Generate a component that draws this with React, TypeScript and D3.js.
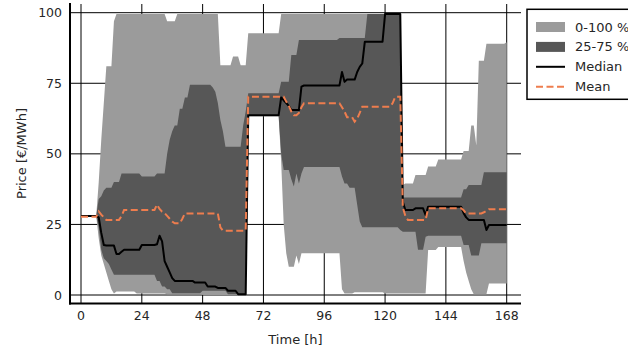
import React from "react";
import * as d3 from "d3";

// hourly values over one week (h = 0..168)
const hours = d3.range(0, 169);

const priceMax = [
  28, 28, 28, 28, 28, 28, 28, 40, 55, 68, 81, 81, 81, 97, 99.5, 99.5, 99.5, 99.5, 99.5, 99.5, 99.5, 99.5, 99.5, 99.5,
  99.5, 99.5, 99.5, 99.5, 99.5, 99.5, 99.5, 99.5, 99.5, 99.5, 97, 97, 97, 97, 99.5, 99.5, 99.5, 99.5, 99.5, 99.5, 99.5, 99.5, 99.5, 99.5,
  99.5, 99.5, 99.5, 99.5, 99.5, 99.5, 99.5, 81.4, 81.4, 81.4, 81.4, 81.4, 84.5, 84.5, 84.5, 81.4, 81.4, 81.4, 92.7, 92.7, 92.7, 92.7, 92.7, 92.7,
  92.7, 92.7, 92.7, 92.7, 92.7, 92.7, 92.7, 99.5, 99.5, 99.5, 99.5, 99.5, 99.5, 99.5, 99.5, 99.5, 99.5, 99.5, 99.5, 99.5, 99.5, 99.5, 99.5, 99.5,
  99.5, 99.5, 99.5, 99.5, 99.5, 99.5, 99.5, 99.5, 99.5, 99.5, 99.5, 99.5, 99.5, 99.5, 99.5, 99.5, 99.5, 99.5, 99.5, 99.5, 99.5, 99.5, 99.5, 99.5,
  99.5, 99.5, 99.5, 99.5, 99.5, 99.5, 99.5, 39, 39.5, 39.5, 39.5, 39.5, 42.5, 42.5, 42.5, 42.5, 42.5, 45.5, 45.5, 45.5, 45.5, 48, 48, 48,
  48, 48, 48, 48, 48, 48, 48, 51, 51, 51, 60, 60, 53, 83, 83, 83, 89, 89, 89, 89, 89, 89, 89, 89,
  89.5,
];

const priceQ75 = [
  28, 28, 28, 28, 28, 28, 28, 34, 35, 37, 38, 38, 38, 40, 40, 40, 43, 43, 43, 43, 43, 43, 43, 43,
  42, 42, 42, 42, 42, 42, 43, 43, 43, 43, 50, 55, 58, 60, 60, 66, 66, 70, 70, 74.5, 74.5, 74.5, 74.5, 74.5,
  74.5, 74.5, 74.5, 74.5, 73.5, 72, 68, 62, 58, 52.5, 52.5, 52.5, 52.5, 52.5, 52.5, 52.5, 60, 65, 71.5, 71.5, 71.5, 71.5, 71.5, 71.5,
  71.5, 71.5, 71.5, 71.5, 71.5, 71.5, 71.5, 75.5, 75.5, 75.5, 75.5, 85, 85, 85, 90.3, 90.3, 90.3, 90.3, 90.3, 90.3, 90.3, 90.3, 90.3, 90.3,
  90.3, 90.3, 90.3, 90.3, 90.3, 90.3, 91, 91, 91, 91, 91, 91, 91, 91, 91, 91, 91, 99.5, 99.5, 99.5, 99.5, 99.5, 99.5, 99.5,
  99.5, 99.5, 99.5, 99.5, 99.5, 99.5, 99.5, 34.5, 34.5, 34.5, 34.5, 34.5, 34.5, 34.5, 34.5, 34.5, 34.5, 34.5, 34.5, 34.5, 34.5, 34.5, 34.5, 34.5,
  34.5, 34.5, 34.5, 34.5, 34.5, 34.5, 34.5, 37.5, 37.5, 39, 39, 39, 39, 39, 39, 43.5, 43.5, 43.5, 43.5, 43.5, 43.5, 43.5, 43.5, 43.5,
  43.5,
];

const priceMedian = [
  28, 28, 28, 28, 28, 28, 28, 27.5, 22, 17.7, 17.5, 17.5, 17.5, 17.5, 14.5, 14.5, 15.3, 16, 16, 16, 16, 16, 16, 16,
  17.7, 17.7, 17.7, 17.7, 17.7, 17.7, 18, 21, 19, 12, 10, 8, 6, 5, 5, 5, 5, 5, 5, 5, 5, 4.4, 4.4, 4.4,
  4.4, 4.4, 3, 3, 3, 3, 2.5, 2.5, 2.5, 2.5, 1.5, 1.5, 1.5, 1.5, 0.3, 0.3, 0.3, 0.3, 63.7, 63.7, 63.7, 63.7, 63.7, 63.7,
  63.7, 63.7, 63.7, 63.7, 63.7, 63.7, 63.7, 70, 69, 68, 67, 65.5, 65.5, 65.5, 65.5, 73.8, 74.2, 74.2, 74.2, 74.2, 74.2, 74.2, 74.2, 74.2,
  74.2, 74.2, 74.2, 74.2, 74.2, 74.2, 74.2, 79, 75.5, 76.3, 76.3, 76.3, 76.3, 79, 80.8, 82, 89.7, 89.7, 89.7, 89.7, 89.7, 89.7, 89.7, 89.7,
  99.5, 99.5, 99.5, 99.5, 99.5, 99.5, 99.5, 33, 30.1, 30.1, 30.1, 30.1, 30.7, 30.7, 30.7, 30.7, 28.3, 31.3, 31.3, 31.3, 31.3, 31.3, 31.3, 31.3,
  31.3, 31.3, 31.3, 31.3, 31.3, 31.3, 31.3, 29, 27.5, 26.6, 26.6, 26.6, 26.6, 26.6, 26.6, 26.6, 23, 24.8, 24.8, 24.8, 24.8, 24.8, 24.8, 24.8,
  24.8,
];

const priceMean = [
  27.7, 27.7, 27.7, 27.7, 27.7, 27.7, 27.7, 29.6, 28.5, 27.5, 26.6, 26.6, 26.6, 26.6, 26.6, 26.6, 28, 30.1, 30.1, 30.1, 30.1, 30.1, 30.1, 30.1,
  30.1, 30.1, 30.1, 30.1, 30.1, 30.1, 32, 30.5, 29.5, 29, 28, 27, 26, 25.4, 25.4, 25.4, 27, 28.9, 28.9, 28.9, 28.9, 28.9, 28.9, 28.9,
  28.9, 28.9, 28.9, 28.9, 28.9, 28.9, 28.9, 24, 22.8, 22.8, 22.8, 22.8, 22.8, 22.8, 22.8, 22.8, 22.8, 22.8, 70.2, 70.2, 70.2, 70.2, 70.2, 70.2,
  70.2, 70.2, 70.2, 70.2, 70.2, 70.2, 70.2, 70.2, 70.2, 68.5, 67, 65, 63.7, 63.7, 64.5, 66.5, 67.9, 67.9, 67.9, 67.9, 67.9, 67.9, 67.9, 67.9,
  67.9, 67.9, 67.9, 67.9, 67.9, 67.9, 67.9, 66.5, 65, 63, 63, 63, 61.4, 62.5, 64.5, 66.7, 66.7, 66.7, 66.7, 66.7, 66.7, 66.7, 66.7, 66.7,
  66.7, 66.7, 66.7, 68, 70.2, 70.2, 70.2, 31, 28, 26.6, 26.6, 26.6, 26.6, 26.6, 26.6, 26.6, 26.6, 30.7, 30.7, 30.7, 30.7, 30.7, 30.7, 30.7,
  30.7, 30.7, 30.7, 30.7, 30.7, 30.7, 30.7, 30, 28.9, 28.9, 28.9, 28.9, 28.9, 28.9, 28.9, 29.3, 29.8, 30.4, 30.4, 30.4, 30.4, 30.4, 30.4, 30.4,
  30.4,
];

const priceQ25 = [
  28, 28, 28, 28, 28, 28, 28, 24, 16, 13, 12, 11, 9, 7.2, 7.2, 7.2, 7.2, 7.2, 7.2, 7.2, 7.2, 7.2, 7.2, 7.2,
  7.2, 7.2, 7.2, 7.2, 7.2, 7.2, 5, 5, 3, 3, 2, 2, 0.6, 0.6, 0.6, 0.6, 0.6, 0.6, 0.6, 0.6, 0.6, 0.6, 0.6, 0.6,
  1.5, 1.5, 1.5, 1.5, 1.5, 1.5, 1.5, 1.5, 1.5, 1.5, 0.3, 0.3, 0.3, 0.3, 0.3, 0.3, 0.3, 0.3, 63.5, 63.5, 63.5, 63.5, 63.5, 63.5,
  63.5, 63.5, 63.5, 63.5, 63.5, 63.5, 63.5, 50, 44.3, 44.3, 44.3, 41, 38.4, 43, 39.5, 43, 45.3, 45.3, 45.3, 45.3, 45.3, 45.3, 45.3, 45.3,
  45.3, 45.3, 45.3, 45.3, 45.3, 45.3, 45.3, 42, 39.5, 39.5, 38, 38, 38, 32, 26, 24, 24, 24, 24, 24, 24, 24, 24, 24,
  24, 24, 24, 24, 24, 24, 23, 22.4, 22.4, 22.4, 22.4, 22.4, 22.4, 16, 16, 16, 20.6, 21, 21, 21, 21, 21, 21, 21,
  21, 21, 21, 21, 21, 21, 21, 17.7, 17.7, 17.7, 14, 14, 14, 14, 18.3, 18.3, 18.3, 18.3, 18.3, 18.3, 18.3, 18.3, 18.3, 18.3,
  18.3,
];

const priceMin = [
  28, 28, 28, 28, 28, 28, 28, 20, 14, 11, 8, 5, 2, 0.5, 1.2, 1.2, 1.2, 1.2, 1.2, 1.2, 1.2, 1.2, 0.5, 0.5,
  0.5, 0.5, 0.5, 0.5, 0.5, 0.5, 0.5, 0.5, 0.5, 0.5, 0.3, 0.3, 0.3, 0.3, 0.3, 0.3, 0.3, 0.3, 0.3, 0.3, 0.3, 0.3, 0.3, 0.3,
  0, 0, 0, 0, 0, 0, 0, 0, 0, 0, 0, 0, 0, 0, 0, 0, 0, 0, 63.3, 63.3, 63.3, 63.3, 63.3, 63.3,
  63.3, 63.3, 63.3, 63.3, 63.3, 63.3, 63.3, 47, 25, 14.8, 10, 10, 10, 14, 11, 14.8, 14.8, 14.8, 14.8, 14.8, 14.8, 14.8, 14.8, 14.8,
  14.8, 14.8, 14.8, 14.8, 14.8, 14.8, 14.8, 2, 0.5, 0.5, 0.5, 0.5, 1, 1, 1, 1, 1, 1, 1, 1, 1, 1, 1, 1,
  0.5, 0.5, 0.5, 0.5, 0.5, 0.5, 0.5, 0.5, 0.5, 0.5, 0.5, 0.5, 0.5, 0.5, 0.5, 0.5, 0.5, 15.9, 15.9, 15.9, 15.9, 17, 17, 17,
  17, 17, 17, 17, 17, 17, 17, 12, 8, 5, 2, 0.3, 0.3, 0.3, 0.3, 0.3, 0.3, 4.1, 4.1, 4.1, 4.1, 4.1, 4.1, 4.1,
  4.1,
];

const xTicks = [0, 24, 48, 72, 96, 120, 144, 168];
const yTicks = [0, 25, 50, 75, 100];
const legendLabels = ["0-100 %", "25-75 %", "Median", "Mean"];

const lightGrey = "#9b9b9b";
const darkGrey = "#575757";
const meanColor = "#ee7d4e";
const font = "DejaVu Sans";

export default function App() {
  const width = 628;
  const height = 348;
  const plot = { left: 70, right: 521, top: 4, bottom: 303.5 };

  const x = d3.scaleLinear().domain([0, 168]).range([81, 506.7]);
  const y = d3.scaleLinear().domain([0, 100]).range([295, 12.7]);

  const band = (lo: number[], hi: number[]) =>
    d3.area<number>()
      .x((h) => x(h))
      .y0((_, i) => y(lo[i]))
      .y1((_, i) => y(hi[i]))(hours) || "";

  const line = (vals: number[]) =>
    d3.line<number>()
      .x((h) => x(h))
      .y((_, i) => y(vals[i]))(hours) || "";

  return (
    <svg width={width} height={height} style={{ position: "absolute", left: 0, top: 0 }} fontFamily={font}>
      <rect width={width} height={height} fill="white" />

      {/* grid (under the bands) */}
      {xTicks.map((t) => (
        <line key={"gx" + t} x1={x(t)} x2={x(t)} y1={plot.top} y2={plot.bottom} stroke="#000" strokeWidth={1} />
      ))}
      {yTicks.map((t) => (
        <line key={"gy" + t} x1={plot.left} x2={plot.right} y1={y(t)} y2={y(t)} stroke="#000" strokeWidth={1} />
      ))}

      <path d={band(priceMin, priceMax)} fill={lightGrey} />
      <path d={band(priceQ25, priceQ75)} fill={darkGrey} />
      <path d={line(priceMedian)} fill="none" stroke="#000" strokeWidth={2} strokeLinejoin="round" />
      <path d={line(priceMean)} fill="none" stroke={meanColor} strokeWidth={2} strokeDasharray="7,3.5" />

      {/* spines */}
      <line x1={plot.left} x2={plot.left} y1={plot.top - 1} y2={plot.bottom + 1} stroke="#000" strokeWidth={2} />
      <line x1={plot.left - 1} x2={plot.right} y1={plot.bottom} y2={plot.bottom} stroke="#000" strokeWidth={2} />

      {xTicks.map((t) => (
        <text key={"tx" + t} x={x(t)} y={319.5} textAnchor="middle" fontSize={12.5} fill="#262626">{t}</text>
      ))}
      {yTicks.map((t) => (
        <text key={"ty" + t} x={62} y={y(t) + 4.5} textAnchor="end" fontSize={12.5} fill="#262626">{t}</text>
      ))}
      <text x={295.5} y={344} textAnchor="middle" fontSize={13} fill="#262626">Time [h]</text>
      <text transform="translate(26,153.5) rotate(-90)" textAnchor="middle" fontSize={13} fill="#262626">Price [€/MWh]</text>

      {/* legend */}
      <g>
        <rect x={527} y={9.3} width={120} height={90} fill="white" stroke="#000" strokeWidth={1.5} />
        {legendLabels.map((label, i) => {
          const cy = 27 + i * 19.9;
          return (
            <g key={label}>
              {i === 0 && <rect x={536} y={cy - 5} width={29} height={10} fill={lightGrey} />}
              {i === 1 && <rect x={536} y={cy - 5} width={29} height={10} fill={darkGrey} />}
              {i === 2 && <line x1={536} x2={565} y1={cy} y2={cy} stroke="#000" strokeWidth={2} />}
              {i === 3 && <line x1={536} x2={565} y1={cy} y2={cy} stroke={meanColor} strokeWidth={2} strokeDasharray="7,3.5" />}
              <text x={575} y={cy + 4.5} fontSize={13} fill="#262626">{label}</text>
            </g>
          );
        })}
      </g>
    </svg>
  );
}
